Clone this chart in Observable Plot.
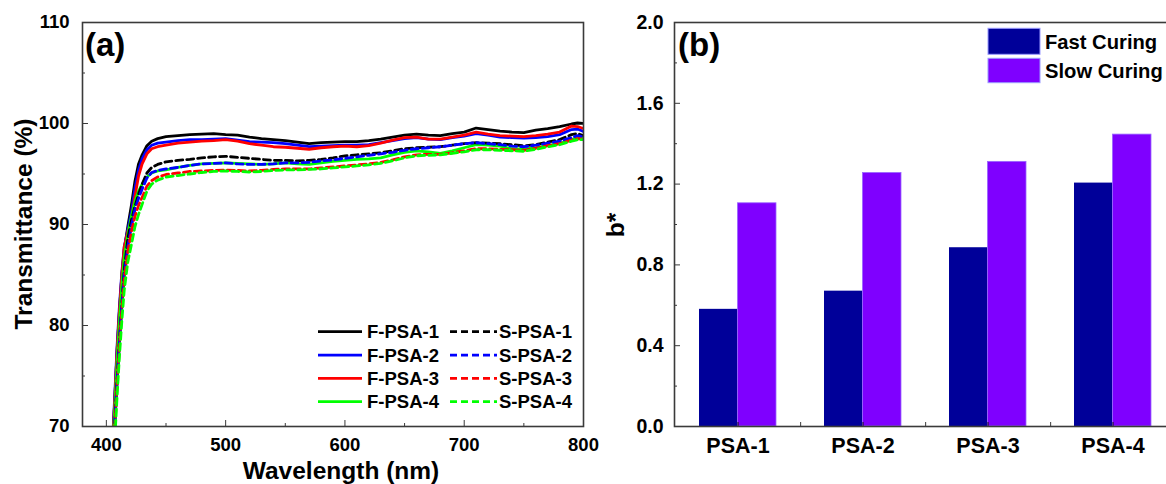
<!DOCTYPE html>
<html>
<head>
<meta charset="utf-8">
<script src="https://cdn.jsdelivr.net/npm/d3@7"></script>
<script src="https://cdn.jsdelivr.net/npm/@observablehq/plot@0.6"></script>
<style>
  html, body { margin: 0; padding: 0; background: #fff; overflow: hidden; }
  #wrap { position: relative; width: 1166px; height: 484px; overflow: hidden; background: #fff; }
  #pa, #pb, #ov { position: absolute; top: 0; }
  #pa { left: 0; width: 600px; }
  #pb { left: 600px; width: 620px; }
  #ov { left: 0; pointer-events: none; }
  #pa svg, #pb svg { max-width: none !important; overflow: visible; }
</style>
</head>
<body>
<div id="wrap">
  <div id="pa"></div>
  <div id="pb"></div>
  <svg id="ov" width="1166" height="484"></svg>
</div>
<script>
// ---------------- DATA ----------------
// Panel (a): transmittance spectra
const wavelength = [405, 407, 409, 411, 413, 415, 418, 421, 424, 427, 430, 434, 438, 443, 450, 460, 470, 480, 490, 500, 510, 520, 530, 540, 550, 560, 570, 580, 590, 600, 610, 620, 630, 640, 650, 660, 670, 680, 690, 700, 710, 720, 730, 740, 750, 760, 770, 780, 790, 795, 800];

const F_PSA_1 = [68, 72.5, 77.5, 81.5, 85, 87.5, 89.8, 91.9, 94.3, 96.0, 96.9, 97.8, 98.25, 98.5, 98.7, 98.8, 98.9, 98.95, 99.0, 98.9, 98.85, 98.65, 98.5, 98.4, 98.3, 98.15, 98.0, 98.1, 98.15, 98.2, 98.2, 98.3, 98.45, 98.65, 98.85, 98.95, 98.85, 98.8, 99.0, 99.15, 99.55, 99.4, 99.25, 99.15, 99.1, 99.35, 99.5, 99.7, 99.95, 100.05, 100.0];
const F_PSA_2 = [68, 73, 78, 82, 85.3, 87.8, 89.5, 91.2, 93.6, 95.4, 96.5, 97.4, 97.85, 98.05, 98.15, 98.3, 98.4, 98.4, 98.45, 98.5, 98.35, 98.2, 98.15, 98.1, 98.0, 97.85, 97.7, 97.75, 97.8, 97.85, 97.85, 97.9, 98.1, 98.3, 98.5, 98.6, 98.45, 98.4, 98.6, 98.75, 99.0, 98.85, 98.65, 98.6, 98.55, 98.6, 98.7, 98.9, 99.4, 99.45, 99.2];
const F_PSA_3 = [67.5, 72.5, 77.5, 81.5, 85, 87.8, 89.3, 90.5, 92.8, 94.8, 96.0, 97.0, 97.5, 97.7, 97.85, 98.05, 98.15, 98.25, 98.3, 98.4, 98.25, 98.0, 97.85, 97.7, 97.65, 97.55, 97.45, 97.6, 97.7, 97.75, 97.7, 97.8, 98.05, 98.35, 98.6, 98.65, 98.45, 98.45, 98.65, 98.85, 99.15, 98.95, 98.8, 98.75, 98.7, 98.8, 98.95, 99.15, 99.75, 99.7, 99.5];
const F_PSA_4 = [67, 71.5, 76.5, 80.5, 84, 86.8, 89.0, 90.8, 92.3, 93.3, 94.0, 94.7, 95.1, 95.3, 95.4, 95.65, 95.85, 96.0, 96.05, 96.1, 96.05, 96.0, 95.95, 96.0, 96.1, 96.0, 95.95, 96.1, 96.25, 96.35, 96.45, 96.5, 96.6, 96.9, 97.15, 97.3, 97.2, 97.05, 97.3, 97.6, 97.9, 97.85, 97.75, 97.5, 97.45, 97.6, 97.8, 98.0, 98.4, 98.6, 98.6];
const S_PSA_1 = [66, 70, 74.5, 78.5, 82, 85.5, 88.6, 90.4, 91.8, 93.0, 94.0, 95.1, 95.65, 95.95, 96.2, 96.35, 96.45, 96.6, 96.7, 96.75, 96.65, 96.55, 96.45, 96.35, 96.35, 96.3, 96.35, 96.45, 96.6, 96.8, 96.9, 97.0, 97.1, 97.3, 97.5, 97.6, 97.65, 97.7, 97.85, 98.0, 98.1, 98.05, 98.0, 97.9, 97.8, 97.9, 98.15, 98.4, 98.9, 99.0, 98.8];
const S_PSA_2 = [66, 70, 74.5, 78.5, 82, 85, 87.8, 89.8, 91.5, 92.6, 93.5, 94.6, 95.15, 95.35, 95.5, 95.65, 95.85, 96.0, 96.05, 96.1, 96.0, 95.95, 95.95, 96.0, 96.1, 96.1, 96.15, 96.3, 96.4, 96.55, 96.7, 96.85, 97.0, 97.15, 97.35, 97.5, 97.6, 97.7, 97.85, 98.0, 98.1, 98.0, 97.9, 97.75, 97.7, 97.85, 98.05, 98.25, 98.6, 98.8, 98.7];
const S_PSA_3 = [65.5, 69.5, 74, 78, 81.5, 84.5, 87.3, 89.3, 90.8, 91.9, 92.7, 93.8, 94.35, 94.7, 94.95, 95.1, 95.25, 95.3, 95.35, 95.4, 95.35, 95.3, 95.35, 95.45, 95.5, 95.5, 95.5, 95.6, 95.7, 95.8, 95.9, 96.0, 96.15, 96.4, 96.7, 96.9, 96.95, 96.95, 97.1, 97.3, 97.5, 97.5, 97.45, 97.4, 97.35, 97.55, 97.8, 98.0, 98.35, 98.5, 98.45];
const S_PSA_4 = [64.5, 68.5, 73, 77, 80.5, 83.5, 86.3, 88.0, 89.8, 91.0, 92.0, 93.3, 94.0, 94.4, 94.7, 94.85, 95.0, 95.15, 95.25, 95.3, 95.25, 95.2, 95.25, 95.35, 95.4, 95.4, 95.45, 95.5, 95.6, 95.7, 95.8, 95.9, 96.05, 96.3, 96.6, 96.8, 96.85, 96.9, 97.05, 97.2, 97.4, 97.4, 97.35, 97.3, 97.25, 97.45, 97.7, 97.9, 98.25, 98.4, 98.4];

const seriesNames = ["F-PSA-1", "F-PSA-2", "F-PSA-3", "F-PSA-4", "S-PSA-1", "S-PSA-2", "S-PSA-3", "S-PSA-4"];
const seriesValues = [F_PSA_1, F_PSA_2, F_PSA_3, F_PSA_4, S_PSA_1, S_PSA_2, S_PSA_3, S_PSA_4];
const lineColors = ["#000000", "#0000ff", "#ff0000", "#00ff00"];

const xTicksA = [400, 500, 600, 700, 800];
const xMinorA = [450, 550, 650, 750];
const yTicksA = [70, 80, 90, 100, 110];
const yMinorA = [75, 85, 95, 105];

// Panel (b): b* values
const categories = ["PSA-1", "PSA-2", "PSA-3", "PSA-4"];
const fastCuring = [0.58, 0.67, 0.885, 1.205];
const slowCuring = [1.105, 1.255, 1.31, 1.445];
const yTicksB = [0, 0.4, 0.8, 1.2, 1.6, 2.0];
const yMinorB = [0.2, 0.6, 1.0, 1.4, 1.8];

// ---------------- STYLE ----------------
const FONT = "'Liberation Sans', Arial, Helvetica, sans-serif";
const FRAME = "#3a3a3a";

// ---------------- PANEL (a) ----------------
const lineMarks = seriesNames.map((name, i) => {
  const data = wavelength.map((w, j) => ({wl: w, T: seriesValues[i][j]}));
  return Plot.line(data, {
    x: "wl", y: "T",
    stroke: lineColors[i % 4],
    strokeWidth: 2.8,
    strokeDasharray: i < 4 ? null : "7,4",
    clip: true
  });
});

const plotA = Plot.plot({
  width: 600, height: 484,
  marginLeft: 82, marginRight: 17, marginTop: 22, marginBottom: 58,
  style: {fontFamily: FONT, fontWeight: "bold", color: "#000", background: "transparent", overflow: "visible", maxWidth: "none"},
  x: {domain: [380, 800], label: null},
  y: {domain: [70, 110], label: null},
  marks: [
    ...lineMarks,
    Plot.axisX({ticks: xMinorA, tickSize: -3, tickFormat: () => "", label: null, stroke: FRAME}),
    Plot.axisY({ticks: yMinorA, tickSize: -3, tickFormat: () => "", label: null, stroke: FRAME}),
    Plot.axisX({ticks: xTicksA, tickSize: -6, tickPadding: 17, label: null, fontSize: 18.5, fontWeight: "bold", stroke: FRAME, fill: "#000"}),
    Plot.axisY({ticks: yTicksA, tickSize: -6, tickPadding: 19, label: null, fontSize: 18.5, fontWeight: "bold", stroke: FRAME, fill: "#000"}),
    Plot.frame({stroke: FRAME, strokeWidth: 1.6})
  ]
});
document.getElementById("pa").appendChild(plotA);

// ---------------- PANEL (b) ----------------
const barData = categories.map((c, i) => ({cat: c, fast: fastCuring[i], slow: slowCuring[i]}));
const stepB = 125.3;
const bandB = 77;

const plotB = Plot.plot({
  width: 620, height: 484,
  marginLeft: 74, marginRight: 10, marginTop: 22, marginBottom: 58,
  style: {fontFamily: FONT, fontWeight: "bold", color: "#000", background: "transparent", overflow: "visible", maxWidth: "none"},
  x: {domain: categories, range: [74.3, 74.3 + 4 * stepB], paddingInner: 1 - bandB / stepB, paddingOuter: (1 - bandB / stepB) / 2, label: null},
  y: {domain: [0, 2], label: null},
  marks: [
    Plot.barY(barData, {x: "cat", y: "fast", fill: "#000099", insetLeft: 0, insetRight: bandB / 2}),
    Plot.barY(barData, {x: "cat", y: "slow", fill: "#7f00ff", stroke: "#9a66ff", strokeWidth: 0.8, insetLeft: bandB / 2, insetRight: 0}),
    Plot.axisX({ticks: categories.slice(0, 3), tickSize: -4, tickFormat: () => "", dx: stepB / 2, stroke: FRAME, label: null}),
    Plot.axisX({tickSize: -4, tickPadding: 15, label: null, fontSize: 21.5, fontWeight: "bold", stroke: "#111", fill: "#000"}),
    Plot.axisY({ticks: yMinorB, tickSize: -3, tickFormat: () => "", label: null, stroke: FRAME}),
    Plot.axisY({ticks: yTicksB, tickSize: -6, tickPadding: 17, tickFormat: d3.format(".1f"), label: null, fontSize: 19.5, fontWeight: "bold", stroke: FRAME, fill: "#000"}),
    Plot.frame({stroke: FRAME, strokeWidth: 1.6})
  ]
});
document.getElementById("pb").appendChild(plotB);

// ---------------- OVERLAY: titles, panel letters, legends ----------------
const ov = d3.select("#ov").style("font-family", FONT).style("font-weight", "bold");

ov.append("text").attr("transform", "translate(32,224) rotate(-90)")
  .attr("text-anchor", "middle").attr("font-size", 24.5).attr("fill", "#000").text("Transmittance (%)");
ov.append("text").attr("x", 341).attr("y", 479)
  .attr("text-anchor", "middle").attr("font-size", 24.5).attr("fill", "#000").text("Wavelength (nm)");
ov.append("text").attr("transform", "translate(624,225) rotate(-90)")
  .attr("text-anchor", "middle").attr("font-size", 24.5).attr("fill", "#000").text("b*");

ov.append("text").attr("x", 85).attr("y", 56).attr("font-size", 33).attr("fill", "#000").text("(a)");
ov.append("text").attr("x", 678).attr("y", 56).attr("font-size", 33).attr("fill", "#000").text("(b)");

// legend (a)
const rowsA = [338.3, 361.7, 385, 408.3];
seriesNames.forEach((name, i) => {
  const r = i % 4;
  const dashed = i >= 4;
  const y = rowsA[r] - 6.6;
  const x0 = dashed ? 450 : 318, x1 = dashed ? 497 : 362, tx = dashed ? 499 : 367;
  ov.append("line").attr("x1", x0).attr("x2", x1).attr("y1", y).attr("y2", y)
    .attr("stroke", lineColors[r]).attr("stroke-width", 2.8)
    .attr("stroke-dasharray", dashed ? "7,4" : null);
  ov.append("text").attr("x", tx).attr("y", rowsA[r]).attr("font-size", 18.5).attr("fill", "#000").text(name);
});

// legend (b)
const legB = [{label: "Fast Curing", color: "#000099", y0: 28.3, y1: 54.3, base: 48.5},
              {label: "Slow Curing", color: "#7f00ff", y0: 58.3, y1: 82.7, base: 78}];
legB.forEach(d => {
  ov.append("rect").attr("x", 988).attr("y", d.y0).attr("width", 52).attr("height", d.y1 - d.y0)
    .attr("fill", d.color).attr("stroke", "#9a9aff").attr("stroke-width", 1);
  ov.append("text").attr("x", 1045).attr("y", d.base).attr("font-size", 20.2).attr("fill", "#000").text(d.label);
});
</script>
</body>
</html>
